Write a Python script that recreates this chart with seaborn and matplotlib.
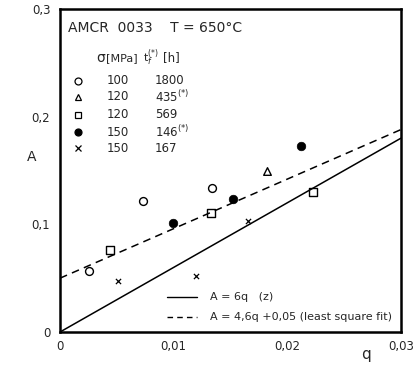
import matplotlib
matplotlib.use("Agg")
import matplotlib.pyplot as plt
import seaborn as sns
import numpy as np
import pandas as pd

# data
q_open = [0.00254, 0.0073, 0.01336]
a_open = [0.0564, 0.122, 0.1336]
q_tri = [0.0182]
a_tri = [0.150]
q_sq = [0.00439, 0.0133, 0.0223]
a_sq = [0.0766, 0.111, 0.1296]
q_fill = [0.00994, 0.01526, 0.02125]
a_fill = [0.1016, 0.1234, 0.173]
q_x = [0.00512, 0.01193, 0.01658]
a_x = [0.0477, 0.0523, 0.103]

sigma = ["100", "120", "120", "150", "150"]
t_f = ["1800", "435$^{(*)}$", "569", "146$^{(*)}$", "167"]

q_line = [0.0, 0.03]
a_z = [6 * q for q in q_line]
a_fit = [4.6 * q + 0.05 for q in q_line]

sns.set_style("white")
plt.rcParams['font.family'] = ['DejaVu Sans']

fig = plt.figure(figsize=(4.15, 3.68), dpi=100)
ax = fig.add_axes([0.1446, 0.0978, 0.8214, 0.8777])

# lines
sns.lineplot(x=q_line, y=a_z, ax=ax, color="black", lw=1.1)
sns.lineplot(x=q_line, y=a_fit, ax=ax, color="black", lw=1.1, linestyle=(0, (5, 3.5)))

# points
sns.scatterplot(x=q_open, y=a_open, ax=ax, marker="o", s=32, facecolor="white", edgecolor="black", linewidth=1.0)
sns.scatterplot(x=q_tri, y=a_tri, ax=ax, marker="^", s=30, facecolor="white", edgecolor="black", linewidth=1.0)
sns.scatterplot(x=q_sq, y=a_sq, ax=ax, marker="s", s=30, facecolor="white", edgecolor="black", linewidth=1.0)
sns.scatterplot(x=q_fill, y=a_fill, ax=ax, marker="o", s=38, color="black", edgecolor="black")
sns.scatterplot(x=q_x, y=a_x, ax=ax, marker="x", s=14, color="black", linewidth=0.9)

ax.set_xlim(0, 0.03)
ax.set_ylim(0, 0.3)
ax.set_xticks([0, 0.01, 0.02, 0.03])
ax.set_xticklabels(["0", "0,01", "0,02", "0,03"], fontsize=8.5)
ax.set_yticks([0, 0.1, 0.2, 0.3])
ax.set_yticklabels(["0", "0,1", "0,2", "0,3"], fontsize=8.5)
ax.tick_params(axis="x", direction="in", length=4, width=1, pad=6)
ax.tick_params(axis="y", direction="out", length=4, width=1, pad=3)
for s in ax.spines.values():
    s.set_linewidth(1.8)
    s.set_color("black")

fig.text(32 / 415, 1 - 157 / 368, "A", fontsize=10, ha="center", va="center")
fig.text(366 / 415, 1 - 355 / 368, "q", fontsize=11, ha="center", va="center")

# legend block drawn as text in pixel positions of the figure
def ftxt(px, py, s, **kw):
    fig.text(px / 415, 1 - py / 368, s, va="center", **kw)

ftxt(68, 28, "AMCR  0033    T = 650°C", fontsize=10)
ftxt(96, 58, "σ", fontsize=10)
ftxt(106, 58, "[MPa]", fontsize=8)
ftxt(143, 58, "t$_f^{(*)}$", fontsize=8)
ftxt(163, 58, "[h]", fontsize=8.5)
marks = [("o", "white"), ("^", "white"), ("s", "white"), ("o", "black"), ("x", "black")]
rows_y = [81, 97, 115, 132, 148]
for (m, fc), yy, sg, tf in zip(marks, rows_y, sigma, t_f):
    fx, fy = 78 / 415, 1 - yy / 368
    if m == "x":
        fig.lines.append(plt.Line2D([fx], [fy], marker="x", ms=4, color="black", mew=0.9, transform=fig.transFigure))
    else:
        fig.lines.append(plt.Line2D([fx], [fy], marker=m, ms=5, mfc=fc, mec="black", mew=0.9, transform=fig.transFigure))
    ftxt(107, yy, sg, fontsize=8.5)
    ftxt(155, yy, tf, fontsize=8.5)

fig.lines.append(plt.Line2D([167 / 415, 197 / 415], [1 - 297 / 368] * 2, color="black", lw=1.0, transform=fig.transFigure))
fig.lines.append(plt.Line2D([167 / 415, 197 / 415], [1 - 317 / 368] * 2, color="black", lw=1.0, linestyle=(0, (4, 3)), transform=fig.transFigure))
ftxt(210, 297, "A = 6q   (z)", fontsize=8)
ftxt(210, 317, "A = 4,6q +0,05 (least square fit)", fontsize=8)

fig.savefig("out.png", dpi=100)
